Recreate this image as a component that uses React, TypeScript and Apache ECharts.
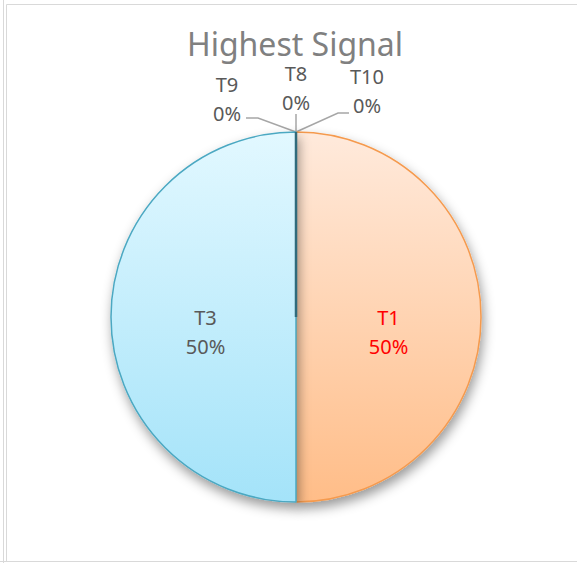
import React, { useEffect, useRef } from "react";
import * as echarts from "echarts";

const titleText = "Highest Signal";
const categories = ["T1", "T3", "T8", "T9", "T10"];
const values = [50, 50, 0, 0, 0];

const PIE_CX = 296;
const PIE_CY = 317;
const PIE_R = 185;

export default function App() {
  const ref = useRef<HTMLDivElement>(null);
  useEffect(() => {
    if (!ref.current) return;
    const chart = echarts.init(ref.current, null, { renderer: "svg" });
    const grad = (a: string, b: string) =>
      new echarts.graphic.LinearGradient(0, 0, 0, 1, [
        { offset: 0, color: a },
        { offset: 1, color: b },
      ]);
    const styles: any[] = [
      { color: grad("#FFEADC", "#FFBD88"), borderColor: "#F59A4E", label: { color: "#FF0000" } },
      { color: grad("#E2F8FF", "#A4E3F9"), borderColor: "#4BA8C2", label: { color: "#595959" } },
      { color: "#2F6B7C", borderColor: "#2F6B7C", label: { color: "#595959", position: "outside" } },
      { color: "#2F6B7C", borderColor: "#2F6B7C", label: { color: "#595959", position: "outside" } },
      { color: "#2F6B7C", borderColor: "#2F6B7C", label: { color: "#595959", position: "outside" } },
    ];
    const data = categories.map((name, i) => ({
      name,
      value: values[i],
      itemStyle: { color: styles[i].color, borderColor: styles[i].borderColor },
      label: styles[i].label,
    }));
    // outline of the zero-valued slices, which all sit at the 12 o'clock radius
    const zeroOutline = values.some((v) => v === 0)
      ? [
          {
            type: "line",
            z: 100,
            shape: { x1: PIE_CX, y1: PIE_CY, x2: PIE_CX, y2: PIE_CY - PIE_R },
            style: { stroke: "#2F6B7C", lineWidth: 2.5 },
          },
        ]
      : [];
    const outsidePos: Record<number, any> = {
      2: { x: 296, y: 88, line: [[296, 132], [296, 114], [296, 114]] },
      3: { x: 227, y: 99, line: [[296, 132], [258, 118], [246, 118]] },
      4: { x: 367, y: 91, line: [[296, 132], [338, 113], [349, 113]] },
    };
    chart.setOption({
      animation: false,
      backgroundColor: "#ffffff",
      title: {
        text: titleText,
        left: 295,
        textAlign: "center",
        top: 27,
        padding: 0,
        textStyle: { fontFamily: "Noto Sans", fontSize: 32, lineHeight: 32, fontWeight: "normal", color: "#808080" },
      },
      graphic: [
        { type: "line", shape: { x1: 3.5, y1: 0, x2: 3.5, y2: 563 }, style: { stroke: "#D9D9D9", lineWidth: 1 } },
        { type: "line", shape: { x1: 6.5, y1: 4.5, x2: 6.5, y2: 561.5 }, style: { stroke: "#D9D9D9", lineWidth: 1 } },
        { type: "line", shape: { x1: 6.5, y1: 4.5, x2: 577, y2: 4.5 }, style: { stroke: "#D9D9D9", lineWidth: 1 } },
        { type: "line", shape: { x1: 0, y1: 561.5, x2: 577, y2: 561.5 }, style: { stroke: "#D9D9D9", lineWidth: 1 } },
        ...zeroOutline,
      ],
      series: [
        {
          type: "pie",
          center: [PIE_CX, PIE_CY],
          radius: [0, PIE_R],
          startAngle: 90,
          clockwise: true,
          avoidLabelOverlap: false,
          stillShowZeroSum: true,
          itemStyle: {
            borderWidth: 1.5,
            shadowBlur: 12,
            shadowOffsetX: 2,
            shadowOffsetY: 6,
            shadowColor: "rgba(0,0,0,0.4)",
          },
          label: {
            show: true,
            position: "inside",
            formatter: "{b}\n{d}%",
            fontFamily: "Noto Sans",
            fontSize: 20,
            lineHeight: 29,
            color: "#595959",
          },
          labelLine: { show: true, lineStyle: { color: "#A6A6A6", width: 1.5 }, length: 10, length2: 10 },
          emphasis: { disabled: true },
          labelLayout: (params: any) => {
            const p = outsidePos[params.dataIndex];
            if (p) {
              return { x: p.x, y: p.y, align: "center", verticalAlign: "middle", labelLinePoints: p.line };
            }
            return { dy: 15, dx: params.dataIndex === 1 ? 5 : -3 };
          },
          data,
        },
      ],
    });
    return () => chart.dispose();
  }, []);
  return <div ref={ref} style={{ position: "absolute", left: 0, top: 0, width: 577, height: 563 }} />;
}
